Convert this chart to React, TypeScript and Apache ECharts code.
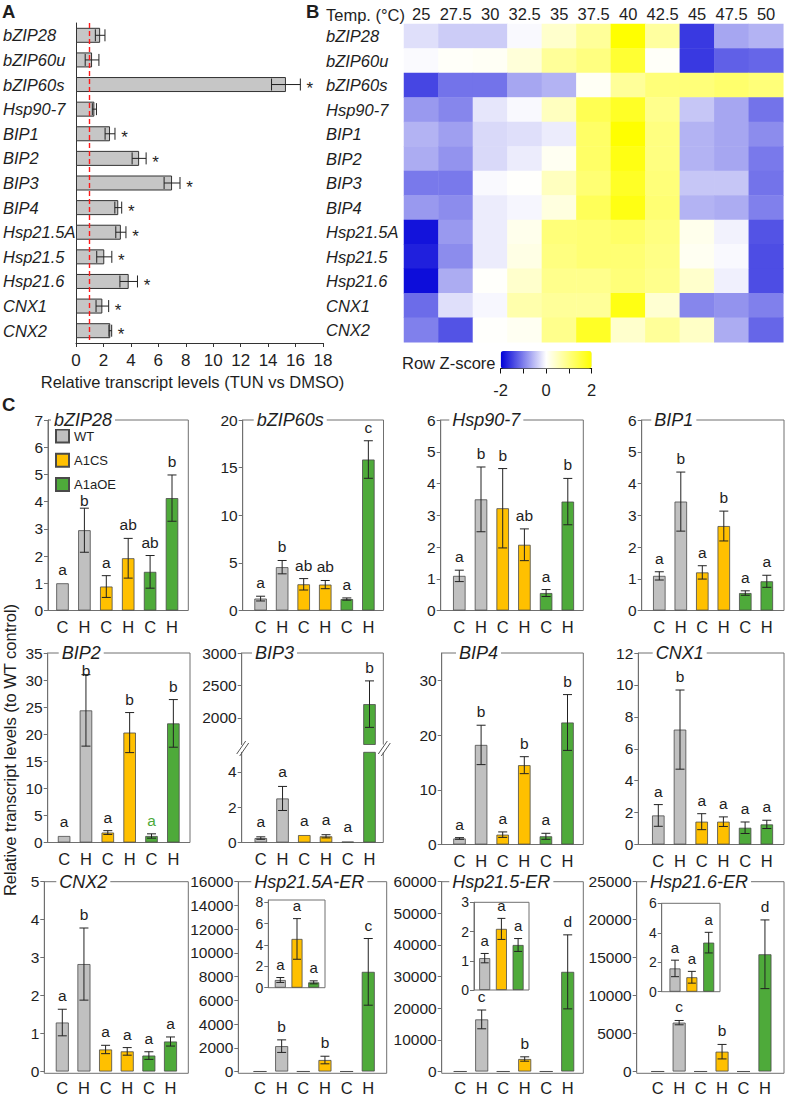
import React, { useEffect, useRef } from 'react';
import * as echarts from 'echarts';

const FONT = '"Liberation Sans", Arial, Helvetica, sans-serif';
const INK = '#1e1e1e';
const FRAME = '#707070';
const GENO_COLORS = ['#C0C0C0', '#FFC000', '#4EAA3A'];
const BAR_EDGE = '#4a4a4a';

/* ---------------- Panel A data ---------------- */
const genes = ['bZIP28', 'bZIP60u', 'bZIP60s', 'Hsp90-7', 'BIP1', 'BIP2', 'BIP3', 'BIP4', 'Hsp21.5A', 'Hsp21.5', 'Hsp21.6', 'CNX1', 'CNX2'];
const tunMean = [1.76, 1.17, 15.3, 1.34, 2.48, 4.6, 7.0, 3.08, 3.27, 2.06, 3.84, 1.92, 2.5];
const tunSem = [0.35, 0.5, 1.05, 0.15, 0.36, 0.51, 0.58, 0.25, 0.37, 0.55, 0.64, 0.46, 0.1];
const tunStar = [false, false, true, false, true, true, true, true, true, true, true, true, true];

/* ---------------- Panel B data ---------------- */
const temps = ['25', '27.5', '30', '32.5', '35', '37.5', '40', '42.5', '45', '47.5', '50'];
const zBZIP28 = [-0.25, -0.4, -0.4, -0.05, 0.4, 0.8, 2.0, 0.75, -1.55, -0.7, -0.6];
const zBZIP60u = [-0.04, 0.05, 0.08, 0.3, 0.8, 1.0, 1.6, 0.05, -1.55, -1.25, -1.2];
const zBZIP60s = [-1.45, -1.1, -1.1, -0.7, -0.6, 0.08, 0.8, 1.05, 1.05, 1.15, 1.05];
const zHsp907 = [-0.8, -0.95, -0.2, -0.05, 0.5, 1.35, 1.7, 0.9, -0.45, -0.7, -1.1];
const zBIP1 = [-0.6, -0.75, -0.3, -0.25, -0.15, 1.2, 2.0, 1.0, -0.6, -0.7, -0.9];
const zBIP2 = [-0.65, -0.85, -0.3, -0.15, 0.1, 1.2, 1.85, 1.0, -0.6, -0.7, -1.05];
const zBIP3 = [-1.05, -1.05, -0.05, 0.02, 0.5, 1.1, 1.7, 1.05, -0.45, -0.45, -1.1];
const zBIP4 = [-0.8, -0.9, -0.15, -0.07, 0.25, 1.3, 1.85, 1.1, -0.6, -0.65, -1.0];
const zHsp215A = [-1.85, -0.8, -0.15, 0.15, 1.05, 1.1, 1.2, 1.0, 0.15, -0.1, -1.35];
const zHsp215 = [-1.75, -0.9, -0.15, 0.2, 1.0, 1.1, 1.1, 0.95, 0.1, -0.05, -1.4];
const zHsp216 = [-1.9, -0.65, 0.03, 0.4, 0.9, 0.9, 1.05, 0.9, 0.4, -0.12, -1.4];
const zCNX1 = [-1.15, -0.25, -0.06, 0.65, 0.8, 0.8, 1.85, 0.35, -0.95, -0.85, -1.0];
const zCNX2 = [-1.0, -1.35, 0.02, 0.1, 0.9, 1.7, 0.4, 0.8, 0.45, -0.65, -1.2];
const heatRows = [zBZIP28, zBZIP60u, zBZIP60s, zHsp907, zBIP1, zBIP2, zBIP3, zBIP4, zHsp215A, zHsp215, zHsp216, zCNX1, zCNX2];
const zScaleTicks = [-2, -1, 0, 1, 2];
const zScaleLabels = [-2, 0, 2];

/* ---------------- Panel C data ---------------- */
const CH = ['C', 'H', 'C', 'H', 'C', 'H'];
const genotypes = ['WT', 'A1CS', 'A1aOE'];

const bzip28Mean = [1.0, 2.95, 0.88, 1.92, 1.42, 4.13];
const bzip28Sem = [0, 0.81, 0.4, 0.73, 0.6, 0.85];
const bzip28Letters = ['a', 'b', 'a', 'ab', 'ab', 'b'];
const bzip28Ticks = [0, 1, 2, 3, 4, 5, 6, 7];

const bzip60sMean = [1.25, 4.55, 2.75, 2.72, 1.2, 15.85];
const bzip60sSem = [0.25, 0.7, 0.6, 0.43, 0.12, 1.97];
const bzip60sLetters = ['a', 'b', 'ab', 'ab', 'a', 'c'];
const bzip60sTicks = [0, 5, 10, 15, 20];

const hsp907Mean = [1.09, 3.5, 3.22, 2.07, 0.55, 3.43];
const hsp907Sem = [0.18, 1.02, 1.25, 0.5, 0.11, 0.73];
const hsp907Letters = ['a', 'b', 'b', 'ab', 'a', 'b'];
const hsp907Ticks = [0, 1, 2, 3, 4, 5, 6];

const bip1Mean = [1.09, 3.43, 1.2, 2.66, 0.55, 0.92];
const bip1Sem = [0.13, 0.93, 0.21, 0.47, 0.07, 0.19];
const bip1Letters = ['a', 'b', 'a', 'b', 'a', 'a'];
const bip1Ticks = [0, 1, 2, 3, 4, 5, 6];

const bip2Mean = [1.2, 24.4, 1.84, 20.3, 1.2, 22.0];
const bip2Sem = [0.12, 6.6, 0.35, 3.7, 0.4, 4.4];
const bip2Letters = ['a', 'b', 'a', 'b', 'a', 'b'];
const bip2Ticks = [0, 5, 10, 15, 20, 25, 30, 35];

const bip3Mean = [0.25, 2.49, 0.42, 0.35, 0.05, 2212];
const bip3Sem = [0.07, 0.68, 0, 0.09, 0.02, 358];
const bip3Letters = ['a', 'a', 'a', 'a', 'a', 'b'];
const bip3UpperTicks = [2000, 2500, 3000];
const bip3LowerTicks = [0, 2, 4];

const bip4Mean = [1.1, 18.2, 1.8, 14.5, 1.5, 22.3];
const bip4Sem = [0.15, 3.6, 0.5, 1.55, 0.55, 5.1];
const bip4Letters = ['a', 'b', 'a', 'b', 'a', 'b'];
const bip4Ticks = [0, 10, 20, 30];

const cnx1Mean = [1.82, 7.2, 1.43, 1.43, 1.05, 1.26];
const cnx1Sem = [0.68, 2.48, 0.5, 0.3, 0.36, 0.26];
const cnx1Letters = ['a', 'b', 'a', 'a', 'a', 'a'];
const cnx1Ticks = [0, 2, 4, 6, 8, 10, 12];

const cnx2Mean = [1.29, 2.83, 0.58, 0.53, 0.42, 0.79];
const cnx2Sem = [0.35, 0.95, 0.11, 0.1, 0.1, 0.12];
const cnx2Letters = ['a', 'b', 'a', 'a', 'a', 'a'];
const cnx2Ticks = [0, 1, 2, 3, 4, 5];

const hsp215aMean = [0.72, 2137, 4.56, 968, 0.5, 8400];
const hsp215aSem = [0.23, 530, 1.9, 320, 0.14, 2810];
const hsp215aLetters = ['', 'b', '', 'b', '', 'c'];
const hsp215aInsetLetters = ['a', 'a', 'a'];
const hsp215aTicks = [0, 2000, 4000, 6000, 8000, 10000, 12000, 14000, 16000];
const hsp215aInsetTicks = [0, 2, 4, 6, 8];

const hsp215Mean = [1.09, 16470, 2.09, 3950, 1.54, 31500];
const hsp215Sem = [0.16, 2970, 0.36, 690, 0.22, 11700];
const hsp215Letters = ['', 'c', '', 'b', '', 'd'];
const hsp215InsetLetters = ['a', 'a', 'a'];
const hsp215Ticks = [0, 10000, 20000, 30000, 40000, 50000, 60000];
const hsp215InsetTicks = [0, 1, 2, 3];

const hsp216Mean = [1.58, 6436, 0.98, 2610, 3.33, 15440];
const hsp216Sem = [0.56, 285, 0.4, 955, 0.7, 4525];
const hsp216Letters = ['', 'c', '', 'b', '', 'd'];
const hsp216InsetLetters = ['a', 'a', 'a'];
const hsp216Ticks = [0, 5000, 10000, 15000, 20000, 25000];
const hsp216InsetTicks = [0, 2, 4, 6];

function fontStr(size: number, style?: string, weight?: string) {
  return [style, weight, size + 'px', FONT].filter(Boolean).join(' ');
}

const plainNum = (v: number) => String(v);

function buildOption() {
  const grid: any[] = [];
  const xAxis: any[] = [];
  const yAxis: any[] = [];
  const series: any[] = [];
  const graphic: any[] = [];

  const addGrid = (left: number, top: number, width: number, height: number) => {
    grid.push({ left, top, width, height, containLabel: false });
    return grid.length - 1;
  };

  const addText = (x: number, y: number, text: string, size: number, o: any = {}) => {
    const style: any = {
      text,
      fill: o.fill || INK,
      font: fontStr(size, o.style, o.weight),
      align: o.align || 'left',
      verticalAlign: 'middle',
      textAlign: o.align || 'left',
      textVerticalAlign: 'middle',
    };
    if (o.bg) {
      style.backgroundColor = o.bg;
      style.padding = [0, 3];
    }
    graphic.push({ type: 'text', x, y, z: 30, silent: true, rotation: o.rotation || 0, style });
  };

  const addFrame = (x1: number, y1: number, x2: number, y2: number) => {
    graphic.push({
      type: 'rect', z: 1, silent: true,
      shape: { x: x1, y: y1, width: x2 - x1, height: y2 - y1 },
      style: { fill: 'none', stroke: FRAME, lineWidth: 1 },
    });
  };

  const addPoly = (pts: number[][]) => {
    graphic.push({
      type: 'polyline', z: 1, silent: true,
      shape: { points: pts },
      style: { fill: 'none', stroke: FRAME, lineWidth: 1 },
    });
  };

  const addLine = (x1: number, y1: number, x2: number, y2: number, color = FRAME) => {
    graphic.push({
      type: 'line', z: 32, silent: true,
      shape: { x1, y1, x2, y2 },
      style: { stroke: color, lineWidth: 1 },
    });
  };

  const valueAxis = (gi: number, min: number, max: number, ticks: number[], offset: number, size = 15.5) => ({
    type: 'value', gridIndex: gi, min, max, offset,
    splitLine: { show: false },
    axisLine: { show: true, lineStyle: { color: FRAME, width: 1 } },
    axisTick: { show: true, length: 4, lineStyle: { color: FRAME }, customValues: ticks },
    axisLabel: { customValues: ticks, fontSize: size, color: INK, margin: 5, fontFamily: FONT, formatter: plainNum },
  });

  const addGenoBars = (gi: number, values: number[], groupOf: (i: number) => number, barW: number, keep?: (v: number) => boolean) => {
    genotypes.forEach((name, g) => {
      series.push({
        type: 'bar', name, xAxisIndex: gi, yAxisIndex: gi, barWidth: barW, barGap: '-100%', clip: true, silent: true,
        itemStyle: { color: GENO_COLORS[g], borderColor: BAR_EDGE, borderWidth: 0.8 },
        data: values.map((v, i) => (groupOf(i) === g && (!keep || keep(v)) ? v : '-')),
      });
    });
  };

  const lineEl = (x1: number, y1: number, x2: number, y2: number) => ({
    type: 'line', shape: { x1, y1, x2, y2 }, style: { stroke: '#222', lineWidth: 1 },
  });

  const addErrors = (gi: number, mean: number[], sem: number[], letters: string[], o: any) => {
    series.push({
      type: 'custom', xAxisIndex: gi, yAxisIndex: gi, silent: true, z: 5, clip: false,
      data: mean.map((m, i) => [i, m]),
      renderItem: (params: any, api: any) => {
        const i = params.dataIndex;
        if (o.keep && !o.keep(i)) return null;
        const m = mean[i];
        const s = sem[i];
        const hi = api.coord([i, m + s]);
        const lo = api.coord([i, m - s]);
        const x = hi[0];
        const children: any[] = [];
        if (s > 0 && Math.abs(lo[1] - hi[1]) >= 1.5) {
          children.push(lineEl(x, hi[1], x, lo[1]));
          children.push(lineEl(x - o.cap, hi[1], x + o.cap, hi[1]));
          children.push(lineEl(x - o.cap, lo[1], x + o.cap, lo[1]));
        }
        if (letters[i]) {
          const color = (o.colors && o.colors[i]) || INK;
          let ly = hi[1] - o.lift;
          if (o.minY !== undefined) ly = Math.max(ly, o.minY);
          const av = o.avoid;
          if (av && x >= av.x1 && x <= av.x2 && ly - 8 < av.y2) ly = av.y2 + 8;
          children.push({
            type: 'text', x, y: ly,
            style: {
              text: letters[i], fill: color, font: fontStr(o.size),
              align: 'center', verticalAlign: 'middle', textAlign: 'center', textVerticalAlign: 'middle',
            },
          });
        }
        return { type: 'group', children };
      },
    });
  };

  /* ---------------- Panel A ---------------- */
  const gA = addGrid(75, 23, 248, 320);
  xAxis.push({
    type: 'value', gridIndex: gA, min: 0, max: 18, interval: 2,
    axisLine: { show: true, lineStyle: { color: '#333' } },
    axisTick: { show: true, length: 4, lineStyle: { color: '#333' } },
    splitLine: { show: false },
    axisLabel: { fontSize: 17, color: INK, margin: 9, fontFamily: FONT },
  });
  yAxis.push({
    type: 'category', gridIndex: gA, data: genes, inverse: true,
    axisLine: { show: true, lineStyle: { color: '#333' } },
    axisTick: { show: false },
    axisLabel: { align: 'left', margin: 73, fontSize: 16.5, fontStyle: 'italic', color: INK, fontFamily: FONT, interval: 0 },
  });
  series.push({
    type: 'bar', xAxisIndex: gA, yAxisIndex: gA, data: tunMean, barWidth: 15, silent: true,
    itemStyle: { color: '#C6C6C6', borderColor: '#333', borderWidth: 1 },
    markLine: {
      silent: true, symbol: 'none', data: [{ xAxis: 1 }], label: { show: false }, z: 10,
      lineStyle: { color: '#FF1A1A', type: [5, 3], width: 1.4, opacity: 1 },
    },
  });
  series.push({
    type: 'custom', xAxisIndex: gA, yAxisIndex: gA, silent: true, z: 5, clip: false,
    data: tunMean.map((m, i) => [m, i]),
    renderItem: (params: any, api: any) => {
      const i = params.dataIndex;
      const m = tunMean[i];
      const s = tunSem[i];
      const lo = api.coord([m - s, i]);
      const hi = api.coord([m + s, i]);
      const y = lo[1];
      const children: any[] = [
        lineEl(lo[0], y, hi[0], y),
        lineEl(lo[0], y - 6, lo[0], y + 6),
        lineEl(hi[0], y - 6, hi[0], y + 6),
      ];
      if (tunStar[i]) {
        children.push({
          type: 'text', x: hi[0] + 9.5, y: y + 4,
          style: { text: '*', fill: INK, font: fontStr(17), align: 'center', verticalAlign: 'middle', textAlign: 'center', textVerticalAlign: 'middle' },
        });
      }
      return { type: 'group', children };
    },
  });

  /* ---------------- Panel B ---------------- */
  const gB = addGrid(404, 24, 379.3, 318.3);
  xAxis.push({
    type: 'category', gridIndex: gB, data: temps, position: 'top',
    axisLine: { show: false }, axisTick: { show: false },
    axisLabel: { fontSize: 16.5, color: INK, margin: 2, fontFamily: FONT, interval: 0 },
  });
  yAxis.push({
    type: 'category', gridIndex: gB, data: genes, inverse: true,
    axisLine: { show: false }, axisTick: { show: false },
    axisLabel: { align: 'left', margin: 78, fontSize: 16.5, fontStyle: 'italic', color: INK, fontFamily: FONT, interval: 0 },
  });
  const heatData: any[] = [];
  heatRows.forEach((row, r) => row.forEach((z, c) => heatData.push([c, r, z])));
  const heatIndex = series.length;
  series.push({
    type: 'heatmap', xAxisIndex: gB, yAxisIndex: gB, data: heatData, silent: true,
    itemStyle: { borderWidth: 0 }, emphasis: { disabled: true },
  });

  // colour-scale axis
  const gZ = addGrid(500.7, 351, 91, 17.5);
  xAxis.push({
    type: 'value', gridIndex: gZ, min: -2, max: 2, position: 'bottom',
    axisLine: { show: true, lineStyle: { color: '#111' } },
    axisTick: { show: true, length: 5, customValues: zScaleTicks, lineStyle: { color: '#111' } },
    axisLabel: { customValues: zScaleLabels, fontSize: 16.5, color: INK, margin: 13, fontFamily: FONT, formatter: plainNum },
    splitLine: { show: false },
  });
  yAxis.push({ type: 'value', gridIndex: gZ, show: false, min: 0, max: 1 });

  /* ---------------- Panel C ---------------- */
  const mainPanels: any[] = [
    { title: 'bZIP28', mean: bzip28Mean, sem: bzip28Sem, letters: bzip28Letters, ticks: bzip28Ticks, max: 7,
      avoid: { x1: 55, x2: 118, y2: 492 },
      L: { axisX: 48, right: 188.3, c0: 62.5, step: 21.9, top: 420, bottom: 610.5, titleDx: 6, barW: 12.5 } },
    { title: 'bZIP60s', mean: bzip60sMean, sem: bzip60sSem, letters: bzip60sLetters, ticks: bzip60sTicks, max: 20,
      L: { axisX: 242.7, right: 383.5, c0: 260.6, step: 21.55, top: 420, bottom: 610.5, titleDx: 14, barW: 12.5 } },
    { title: 'Hsp90-7', mean: hsp907Mean, sem: hsp907Sem, letters: hsp907Letters, ticks: hsp907Ticks, max: 6,
      L: { axisX: 440.7, right: 583.3, c0: 459.3, step: 21.7, top: 420, bottom: 610.5, titleDx: 11.6, barW: 12.5 } },
    { title: 'BIP1', mean: bip1Mean, sem: bip1Sem, letters: bip1Letters, ticks: bip1Ticks, max: 6,
      L: { axisX: 641.7, right: 784, c0: 659.3, step: 21.5, top: 420, bottom: 610.5, titleDx: 12.6, barW: 12.5 } },
    { title: 'BIP2', mean: bip2Mean, sem: bip2Sem, letters: bip2Letters, ticks: bip2Ticks, max: 35,
      colors: [null, null, null, null, GENO_COLORS[2], null], minY: 670,
      L: { axisX: 47.7, right: 190, c0: 64.1, step: 21.85, top: 653, bottom: 842.5, titleDx: 14, barW: 12.5 } },
    { title: 'BIP4', mean: bip4Mean, sem: bip4Sem, letters: bip4Letters, ticks: bip4Ticks, max: 35,
      L: { axisX: 441.7, right: 583.3, c0: 459.5, step: 21.6, top: 653, bottom: 844.5, titleDx: 17.3, barW: 12.5 } },
    { title: 'CNX1', mean: cnx1Mean, sem: cnx1Sem, letters: cnx1Letters, ticks: cnx1Ticks, max: 12,
      L: { axisX: 638.3, right: 784, c0: 658.3, step: 21.7, top: 653, bottom: 844.5, titleDx: 17.4, barW: 12.5 } },
    { title: 'CNX2', mean: cnx2Mean, sem: cnx2Sem, letters: cnx2Letters, ticks: cnx2Ticks, max: 5,
      L: { axisX: 44.3, right: 188.3, c0: 62.3, step: 21.64, top: 881.7, bottom: 1073.3, titleDx: 15, barW: 13 } },
    { title: 'Hsp21.5A-ER', mean: hsp215aMean, sem: hsp215aSem, letters: hsp215aLetters, ticks: hsp215aTicks, max: 16000,
      L: { axisX: 238.3, right: 386.7, c0: 260, step: 21.65, top: 881.7, bottom: 1073.3, titleDx: 16, barW: 13 },
      inset: { letters: hsp215aInsetLetters, ticks: hsp215aInsetTicks, max: 8.2,
        I: { axisX: 268.3, right: 325, c0: 280.3, step: 16.7, top: 900, bottom: 987.7 } } },
    { title: 'Hsp21.5-ER', mean: hsp215Mean, sem: hsp215Sem, letters: hsp215Letters, ticks: hsp215Ticks, max: 60000,
      L: { axisX: 441.7, right: 583.3, c0: 460.2, step: 21.5, top: 881.7, bottom: 1073.3, titleDx: 10.6, barW: 13 },
      inset: { letters: hsp215InsetLetters, ticks: hsp215InsetTicks, max: 3,
        I: { axisX: 474, right: 529, c0: 484.7, step: 16.7, top: 902.3, bottom: 990 } } },
    { title: 'Hsp21.6-ER', mean: hsp216Mean, sem: hsp216Sem, letters: hsp216Letters, ticks: hsp216Ticks, max: 25000,
      L: { axisX: 636.7, right: 784, c0: 657.7, step: 21.45, top: 881.7, bottom: 1073.3, titleDx: 13.3, barW: 13 },
      inset: { letters: hsp216InsetLetters, ticks: hsp216InsetTicks, max: 6,
        I: { axisX: 661.7, right: 720, c0: 675, step: 16.85, top: 903.3, bottom: 991.7 } } },
  ];

  const xCatAxis = (gi: number, showLabels: boolean) => ({
    type: 'category', gridIndex: gi, data: CH,
    axisLine: { show: false }, axisTick: { show: false },
    axisLabel: { show: showLabels, interval: 0, fontSize: 16.5, color: INK, margin: 7.5, fontFamily: FONT },
  });

  mainPanels.forEach((p) => {
    const L = p.L;
    const left = L.c0 - L.step / 2;
    const width = L.step * 6;
    const gi = addGrid(left, L.top, width, L.bottom - L.top);
    xAxis.push(xCatAxis(gi, true));
    yAxis.push(valueAxis(gi, 0, p.max, p.ticks, left - L.axisX));
    addGenoBars(gi, p.mean, (i) => Math.floor(i / 2), L.barW);
    addErrors(gi, p.mean, p.sem, p.letters, { cap: 4.5, lift: 13.5, size: 15.5, colors: p.colors, minY: p.minY, avoid: p.avoid });
    addFrame(L.axisX, L.top, L.right, L.bottom);
    addText(L.axisX + L.titleDx - 3, L.top, p.title, 18, { style: 'italic', bg: '#ffffff' });

    if (p.inset) {
      const I = p.inset.I;
      const il = I.c0 - I.step / 2;
      const gj = addGrid(il, I.top, I.step * 3, I.bottom - I.top);
      xAxis.push({ type: 'category', gridIndex: gj, data: genotypes, show: false });
      yAxis.push(valueAxis(gj, 0, p.inset.max, p.inset.ticks, il - I.axisX, 14));
      const im = [p.mean[0], p.mean[2], p.mean[4]];
      const is = [p.sem[0], p.sem[2], p.sem[4]];
      addGenoBars(gj, im, (i) => i, 11);
      addErrors(gj, im, is, p.inset.letters, { cap: 4, lift: 13, size: 15 });
      addFrame(I.axisX, I.top, I.right, I.bottom);
    }
  });

  // BIP3 with broken axis
  {
    const axisX = 241.7, right = 383.3, c0 = 260.8, step = 21.74;
    const top = 653, upBottom = 744.5, lowTop = 752.3, bottom = 842.5;
    const upMin = 1590, upMax = 3000, lowMax = 5.1;
    const left = c0 - step / 2;
    const width = step * 6;
    const gu = addGrid(left, top, width, upBottom - top);
    xAxis.push(xCatAxis(gu, false));
    yAxis.push(valueAxis(gu, upMin, upMax, bip3UpperTicks, left - axisX));
    addGenoBars(gu, bip3Mean, (i) => Math.floor(i / 2), 12.5, (v) => v >= upMin);
    addErrors(gu, bip3Mean, bip3Sem, bip3Letters, { cap: 4.5, lift: 13.5, size: 15.5, keep: (i: number) => bip3Mean[i] - bip3Sem[i] >= upMin });
    const gl = addGrid(left, lowTop, width, bottom - lowTop);
    xAxis.push(xCatAxis(gl, true));
    yAxis.push(valueAxis(gl, 0, lowMax, bip3LowerTicks, left - axisX));
    addGenoBars(gl, bip3Mean, (i) => Math.floor(i / 2), 12.5);
    addErrors(gl, bip3Mean, bip3Sem, bip3Letters, { cap: 4.5, lift: 15, size: 15.5, keep: (i: number) => bip3Mean[i] + bip3Sem[i] <= lowMax });
    addPoly([[axisX, upBottom], [axisX, top], [right, top], [right, upBottom]]);
    addPoly([[axisX, lowTop], [axisX, bottom], [right, bottom], [right, lowTop]]);
    [axisX, right].forEach((bx) => {
      addLine(bx - 5, 754, bx + 4, 741, '#555');
      addLine(bx - 2, 756, bx + 7, 743, '#555');
    });
    addText(axisX + 13.3 - 3, top, 'BIP3', 18, { style: 'italic', bg: '#ffffff' });
  }

  /* ---------------- free texts ---------------- */
  addText(2, 11, 'A', 18.5, { weight: 'bold' });
  addText(306, 11, 'B', 18.5, { weight: 'bold' });
  addText(2, 404, 'C', 18.5, { weight: 'bold' });
  addText(326, 15, 'Temp. (°C)', 16.5);
  addText(402, 362.7, 'Row Z-score', 16.5);
  addText(192.5, 382, 'Relative transcript levels (TUN vs DMSO)', 16.5, { align: 'center' });
  addText(10, 750, 'Relative transcript levels (to WT control)', 16.5, { align: 'center', rotation: Math.PI / 2 });

  return {
    animation: false,
    backgroundColor: '#ffffff',
    textStyle: { fontFamily: FONT },
    grid, xAxis, yAxis, series,
    graphic: { elements: graphic },
    legend: {
      data: genotypes, orient: 'vertical', left: 55, top: 428.5, padding: 0,
      itemWidth: 13, itemHeight: 13, itemGap: 9.3, icon: 'rect', selectedMode: false,
      textStyle: { fontSize: 13, color: INK, fontFamily: FONT, lineHeight: 13 },
    },
    visualMap: [{
      type: 'continuous', seriesIndex: heatIndex, dimension: 2, min: -2, max: 2,
      orient: 'horizontal', left: 500.7, top: 351, itemWidth: 17.5, itemHeight: 91, padding: 0,
      calculable: false, realtime: false, hoverLink: false, showLabel: false,
      inRange: { color: ['#0000D8', '#FFFFFF', '#FFFF00'] },
    }],
  };
}

export default function App() {
  const ref = useRef<HTMLDivElement>(null);
  useEffect(() => {
    document.body.style.margin = '0';
    const chart = echarts.init(ref.current as HTMLDivElement, null, { renderer: 'svg' });
    chart.setOption(buildOption() as any);
    return () => chart.dispose();
  }, []);
  return <div ref={ref} style={{ width: 788, height: 1096 }} />;
}
